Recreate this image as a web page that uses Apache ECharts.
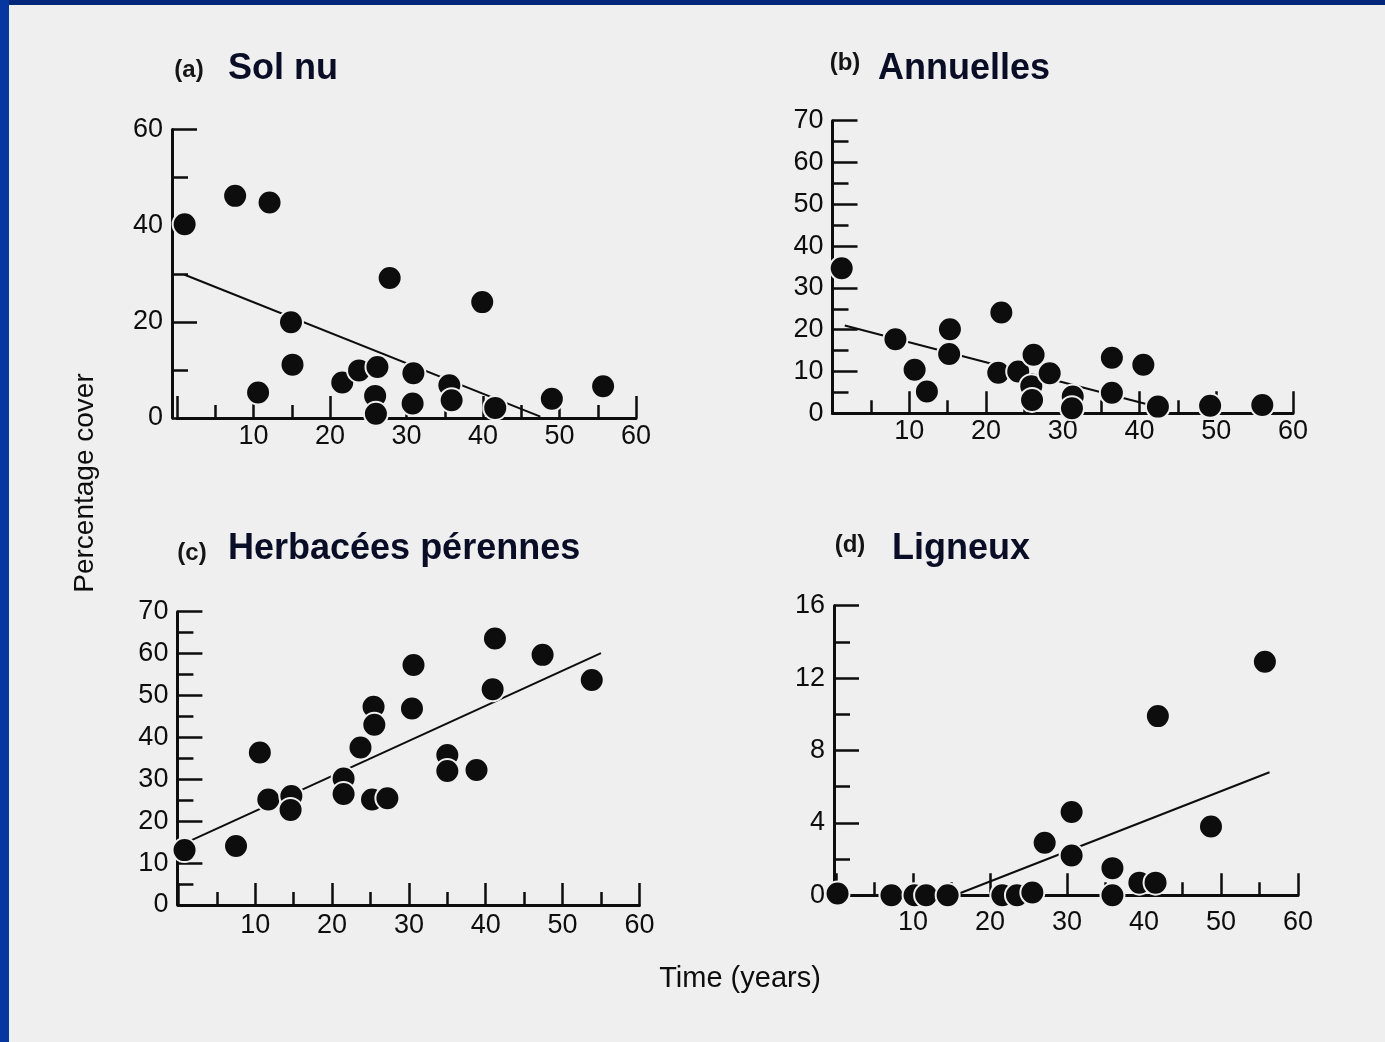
<!DOCTYPE html>
<html>
<head>
<meta charset="utf-8">
<script src="https://cdn.jsdelivr.net/npm/echarts@6/dist/echarts.min.js"></script>
<style>
  html, body { margin: 0; padding: 0; background: #efefef; }
  #chart { width: 1385px; height: 1042px; }
</style>
</head>
<body>
<div id="chart"></div>
<script>
// values, [years, percentage cover]
const solNu = [[1.0, 40.3], [7.6, 46.2], [12.1, 44.8], [27.8, 29.1], [39.9, 24.1], [14.9, 19.9],
  [15.1, 11.1], [10.6, 5.3], [21.6, 7.4], [23.8, 9.9], [26.2, 10.6], [25.9, 4.6], [26.0, 0.9],
  [30.9, 9.3], [30.8, 3.0], [35.6, 6.8], [35.9, 3.7], [41.6, 2.1], [49.0, 4.0], [55.7, 6.6]]
const solNuTrend = [[1.0, 29.8], [47.5, 0.3]]

const annuelles = [[1.2, 34.7], [8.2, 17.7], [10.7, 10.4], [12.3, 5.2], [15.3, 20.1], [15.2, 14.2],
  [22.0, 24.1], [21.6, 9.7], [24.2, 10.0], [26.2, 14.0], [25.9, 6.5], [26.0, 3.2], [28.3, 9.6],
  [31.3, 4.0], [31.2, 1.2], [36.4, 13.3], [36.4, 4.9], [40.5, 11.6], [42.4, 1.6], [49.2, 1.8], [56.0, 2.0]]
const annuellesTrend = [[1.6, 21.0], [42.0, 1.7]]

const herbacees = [[0.8, 13.1], [7.5, 14.1], [10.6, 36.4], [11.7, 25.2], [14.7, 26.0], [14.6, 22.7],
  [21.5, 30.2], [21.5, 26.5], [23.7, 37.6], [25.4, 47.3], [25.5, 43.0], [25.2, 25.2], [27.2, 25.5],
  [30.6, 57.3], [30.4, 46.9], [35.0, 35.8], [35.0, 32.0], [38.8, 32.2], [41.2, 63.6], [40.9, 51.5],
  [47.4, 59.7], [53.8, 53.7]]
const herbaceesTrend = [[0.8, 14.7], [55.0, 60.1]]

const ligneux = [[0.2, 0.1], [7.2, 0], [10.2, 0], [11.7, 0], [14.5, 0], [21.6, 0], [23.5, 0], [25.5, 0.15],
  [27.1, 2.9], [30.6, 4.6], [30.6, 2.2], [35.9, 1.5], [35.9, 0], [39.4, 0.7], [41.5, 0.7], [41.8, 9.9],
  [48.7, 3.8], [55.7, 12.9]]
const ligneuxTrend = [[16.0, 0.1], [56.3, 6.8]]

const panelLetters = ['(a)', '(b)', '(c)', '(d)']
const panelTitles = ['Sol nu', 'Annuelles', 'Herbacées pérennes', 'Ligneux']
const yMax = [60, 70, 70, 16]
const yStep = [20, 10, 10, 4]

const ink = '#0d0d0d'
const bg = '#efefef'
const font = 'Liberation Sans'

const grids = [
  {left: 177, top: 129.5, width: 459, height: 288.5},
  {left: 832.5, top: 120.7, width: 460.5, height: 292.6},
  {left: 178.4, top: 611.7, width: 461, height: 293.3},
  {left: 836, top: 605.7, width: 462, height: 289.6}
]
const xLabelMargin = [5, 5, 7, 14]
const yOffset = [5, 0, 1, 2]

function xAxisFor(i) {
  return {
    type: 'value', gridIndex: i, min: 0, max: 60, interval: 10,
    axisLine: {show: true, onZero: false, lineStyle: {color: ink, width: 3}},
    axisTick: {show: true, inside: true, length: 22, lineStyle: {color: ink, width: 2.5}},
    minorTick: {show: true, splitNumber: 2, length: 13, lineStyle: {color: ink, width: 2.5}},
    splitLine: {show: false},
    minorSplitLine: {show: false},
    axisLabel: {
      margin: xLabelMargin[i], color: ink, fontSize: 27, fontFamily: font,
      formatter: v => v === 0 ? '' : String(v)
    }
  }
}

function yAxisFor(i) {
  return {
    type: 'value', gridIndex: i, min: 0, max: yMax[i], interval: yStep[i], offset: yOffset[i],
    axisLine: {show: true, onZero: false, lineStyle: {color: ink, width: 3}},
    axisTick: {show: true, inside: true, length: 25, lineStyle: {color: ink, width: 2.5}},
    minorTick: {show: true, splitNumber: 2, length: 16, lineStyle: {color: ink, width: 2.5}},
    splitLine: {show: false},
    minorSplitLine: {show: false},
    axisLabel: {margin: 9, color: ink, fontSize: 27, fontFamily: font}
  }
}

function dots(i, data) {
  return {
    type: 'scatter', xAxisIndex: i, yAxisIndex: i, data: data,
    symbol: 'circle', symbolSize: 24, z: 3,
    itemStyle: {color: ink, borderColor: bg, borderWidth: 2, opacity: 1}
  }
}

function trend(i, data) {
  return {
    type: 'line', xAxisIndex: i, yAxisIndex: i, data: data,
    showSymbol: false, symbol: 'none', z: 2,
    lineStyle: {color: ink, width: 2}
  }
}

// titles above each panel
const letterPos = [[189, 70], [845, 63], [192, 553], [850, 545]]
const titlePos = [[228, 69], [878, 69], [228, 549], [892, 549]]
const texts = []
for (let i = 0; i < 4; i++) {
  texts.push({
    type: 'text', x: letterPos[i][0], y: letterPos[i][1],
    style: {text: panelLetters[i], font: 'bold 24px ' + font, fill: '#151515', align: 'center', verticalAlign: 'middle'}
  })
  texts.push({
    type: 'text', x: titlePos[i][0], y: titlePos[i][1],
    style: {text: panelTitles[i], font: 'bold 36px ' + font, fill: '#0a0d26', align: 'left', verticalAlign: 'middle'}
  })
}

let chart = echarts.init(document.getElementById('chart'))
chart.setOption({
  backgroundColor: bg,
  animation: false,
  grid: grids,
  xAxis: [0, 1, 2, 3].map(xAxisFor),
  yAxis: [0, 1, 2, 3].map(yAxisFor),
  series: [
    trend(0, solNuTrend), dots(0, solNu),
    trend(1, annuellesTrend), dots(1, annuelles),
    trend(2, herbaceesTrend), dots(2, herbacees),
    trend(3, ligneuxTrend), dots(3, ligneux)
  ],
  graphic: [
    // blue frame of the slide
    {type: 'rect', shape: {x: 0, y: 0, width: 1385, height: 5}, style: {fill: '#00287a'}, z: 10},
    {type: 'rect', shape: {x: 0, y: 0, width: 9, height: 1042}, style: {fill: '#0636a0'}, z: 10},
    {
      type: 'text', x: 85, y: 483, rotation: Math.PI / 2,
      style: {text: 'Percentage cover', font: '28px ' + font, fill: ink, align: 'center', verticalAlign: 'middle'}
    },
    {
      type: 'text', x: 740, y: 979,
      style: {text: 'Time (years)', font: '29px ' + font, fill: ink, align: 'center', verticalAlign: 'middle'}
    }
  ].concat(texts)
})
</script>
</body>
</html>
